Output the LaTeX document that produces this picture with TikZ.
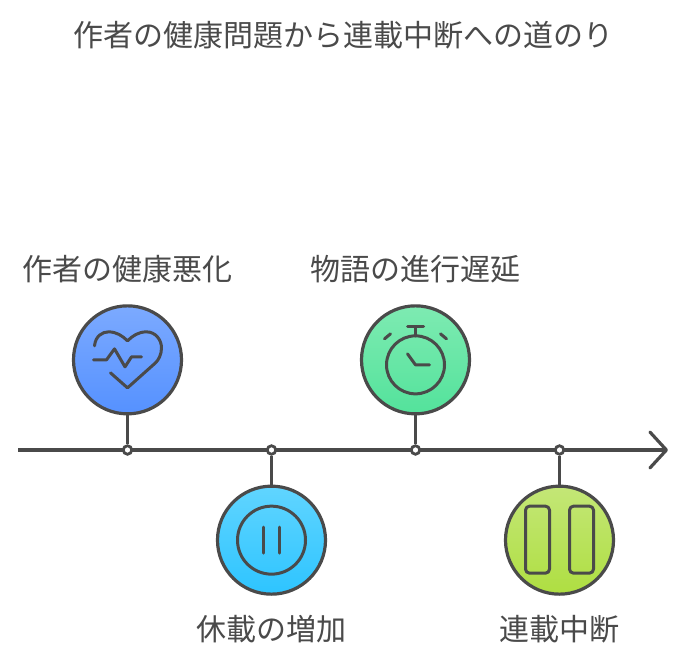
\documentclass[tikz,border=0pt]{standalone}
\usepackage{fontspec}
\setmainfont{Noto Sans CJK JP}
\usetikzlibrary{positioning,arrows.meta}
\definecolor{ink}{HTML}{4A4A4A}
\definecolor{bluetop}{HTML}{8FB6FF}\definecolor{bluebot}{HTML}{4285FF}
\definecolor{cyantop}{HTML}{7ADDFF}\definecolor{cyanbot}{HTML}{14BCFF}
\definecolor{greentop}{HTML}{93EFBD}\definecolor{greenbot}{HTML}{3EDE90}
\definecolor{limetop}{HTML}{CEEB92}\definecolor{limebot}{HTML}{A4DA26}
\pgfdeclareverticalshading{gradblue}{100bp}{color(0bp)=(bluebot); color(100bp)=(bluetop)}
\pgfdeclareverticalshading{gradcyan}{100bp}{color(0bp)=(cyanbot); color(100bp)=(cyantop)}
\pgfdeclareverticalshading{gradgreen}{100bp}{color(0bp)=(greenbot); color(100bp)=(greentop)}
\pgfdeclareverticalshading{gradlime}{100bp}{color(0bp)=(limebot); color(100bp)=(limetop)}
\tikzset{disc/.style={draw=ink,circle,line width=3.2pt,minimum size=108pt,inner sep=0pt,shade,shading=#1},
dot/.style={draw=ink,circle,line width=2.8pt,fill=white,minimum size=8.5pt,inner sep=0pt},
lbl/.style={text=ink,inner sep=0pt,font=\fontsize{30}{36}\selectfont,text height=25pt,text depth=5pt},
link/.style={draw=ink,line width=3.2pt},
icon/.style={draw=ink,line width=3pt,line cap=round,line join=round}}

\begin{document}
\begin{tikzpicture}[x=1pt,y=-1pt,node distance=28.9pt]
\fill[white] (0,0) rectangle (687,666);
\useasboundingbox (0,0) rectangle (687,666);
\node[text=ink,inner sep=0pt,font=\fontsize{30}{36}\selectfont] (title) at (343.5,35) {作者の健康問題から連載中断への道のり};
\coordinate (start) at (18,450);
\coordinate (end) at (668,450);
\draw[link,-{Straight Barb[length=16.5pt,width=36pt,round]}] (start) -- (end);
\node[dot] (dot1) at (127.5,450) {};
\node[dot] (dot2) at (271.5,450) {};
\node[dot] (dot3) at (415.5,450) {};
\node[dot] (dot4) at (559.5,450) {};
\node[disc=gradblue,above=of dot1] (health) {};
\node[disc=gradcyan,below=of dot2] (hiatus) {};
\node[disc=gradgreen,above=of dot3] (delay) {};
\node[disc=gradlime,below=of dot4] (stop) {};
\draw[link] (dot1) -- (health);
\draw[link] (dot2) -- (hiatus);
\draw[link] (dot3) -- (delay);
\draw[link] (dot4) -- (stop);
\node[lbl,above=19pt of health] (healthlbl) {作者の健康悪化};
\node[lbl,below=20pt of hiatus] (hiatuslbl) {休載の増加};
\node[lbl,above=19pt of delay] (delaylbl) {物語の進行遅延};
\node[lbl,below=20pt of stop] (stoplbl) {連載中断};
% heart
\begin{scope}[shift={(health.center)}]
\draw[icon] (-33,-14) .. controls (-32,-24) and (-25,-28) .. (-19,-28) .. controls (-11,-28) and (-5,-24) .. (0,-19) .. controls (5,-24) and (11,-28) .. (19,-28) .. controls (28,-28) and (34,-20) .. (34,-12) .. controls (34,-5) and (31,0) .. (28,3) -- (0,28) -- (-17,13);
\draw[icon] (-34,0) -- (-21,0) -- (-13,-11) -- (-2.5,7) -- (4,-3) -- (14,-3);
\end{scope}
% pause
\begin{scope}[shift={(hiatus.center)}]
\draw[icon] (0,0) circle (34);
\draw[icon] (-8,-13) -- (-8,13);
\draw[icon] (8,-13) -- (8,13);
\end{scope}
% stopwatch
\begin{scope}[shift={(delay.center)}]
\draw[icon] (0,5) circle (29);
\draw[icon] (0,-24) -- (0,-33);
\draw[icon] (-8,-33) -- (8,-33);
\draw[icon] (-31,-21) -- (-25,-26);
\draw[icon] (25,-26) -- (31,-21);
\draw[icon] (-8,-6) -- (0,5) -- (14,5);
\end{scope}
% stop bars
\begin{scope}[shift={(stop.center)}]
\draw[icon,rounded corners=4pt] (-34,-34) rectangle (-10,33);
\draw[icon,rounded corners=4pt] (10,-34) rectangle (34,33);
\end{scope}
\end{tikzpicture}
\end{document}
